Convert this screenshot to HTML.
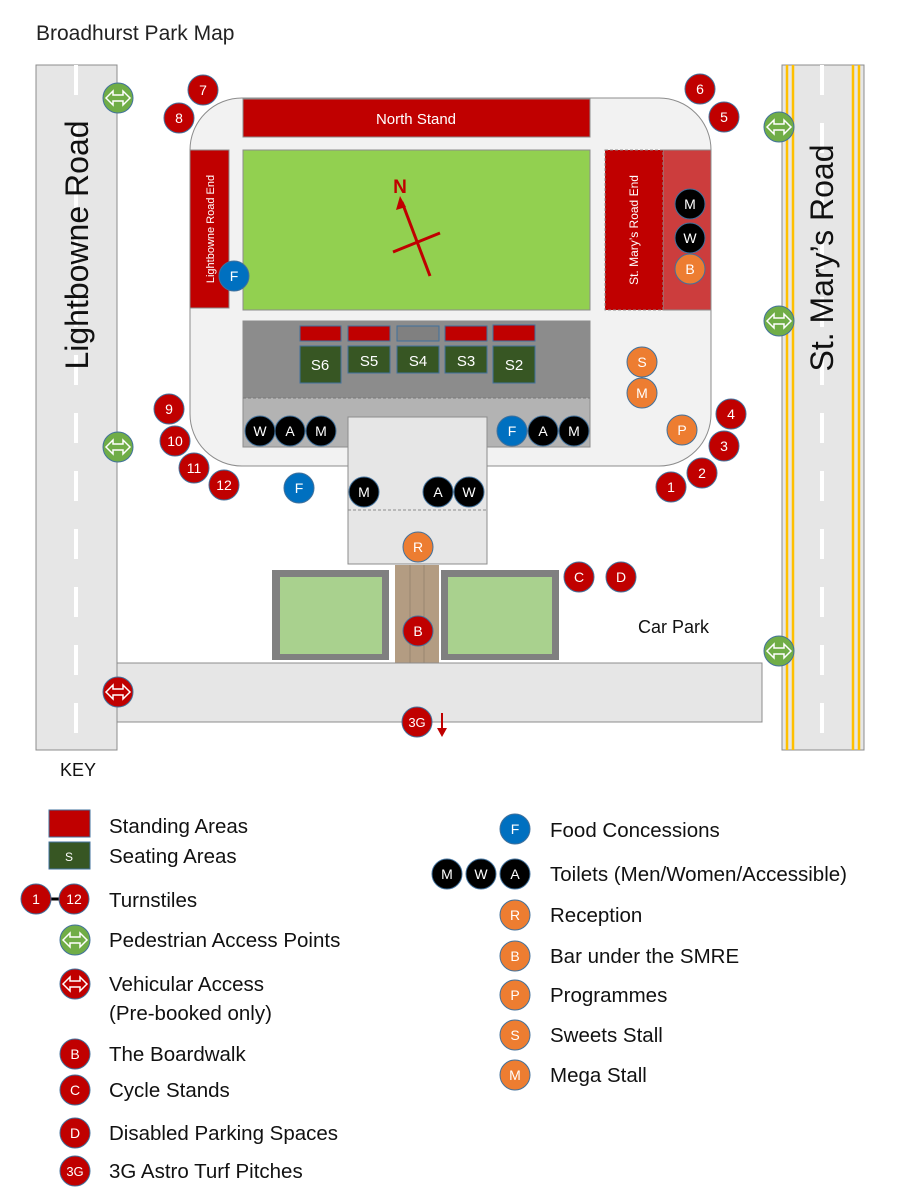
<!DOCTYPE html>
<html><head><meta charset="utf-8"><style>
html,body{margin:0;padding:0;background:#fff}
svg{display:block}
text{font-family:"Liberation Sans",sans-serif}
</style></head><body>
<svg width="900" height="1200" viewBox="0 0 900 1200" xmlns="http://www.w3.org/2000/svg">
<defs>
<g id="arr"><path d="M-12,0 L-5,-7 L-5,-3 L5,-3 L5,-7 L12,0 L5,7 L5,3 L-5,3 L-5,7 Z" fill="none" stroke="#fff" stroke-width="1.5"/></g>
</defs>
<text x="36" y="40" font-size="21" fill="#222">Broadhurst Park Map</text>

<!-- left road -->
<rect x="36" y="65" width="81" height="685" fill="#e6e6e6" stroke="#8c8c8c"/>
<line x1="76" y1="65" x2="76" y2="750" stroke="#fff" stroke-width="4" stroke-dasharray="30,28"/>
<text transform="translate(88,245) rotate(-90)" text-anchor="middle" font-size="32" fill="#111">Lightbowne Road</text>
<!-- right road -->
<rect x="782" y="65" width="82" height="685" fill="#e6e6e6" stroke="#8c8c8c"/>
<line x1="787" y1="65" x2="787" y2="750" stroke="#ffc000" stroke-width="2.5"/>
<line x1="793" y1="65" x2="793" y2="750" stroke="#ffc000" stroke-width="2.5"/>
<line x1="853" y1="65" x2="853" y2="750" stroke="#ffc000" stroke-width="2.5"/>
<line x1="859" y1="65" x2="859" y2="750" stroke="#ffc000" stroke-width="2.5"/>
<line x1="822" y1="65" x2="822" y2="750" stroke="#fff" stroke-width="4" stroke-dasharray="30,28"/>
<text transform="translate(833,258) rotate(-90)" text-anchor="middle" font-size="32" fill="#111">St. Mary’s Road</text>

<!-- stadium -->
<rect x="190" y="98" width="521" height="368" rx="52" fill="#f2f2f2" stroke="#8c8c8c"/>
<rect x="243" y="99" width="347" height="38" fill="#c00000" stroke="#8c8c8c"/>
<text x="416" y="124" text-anchor="middle" font-size="15" fill="#fff">North Stand</text>
<rect x="243" y="150" width="347" height="160" fill="#92d050" stroke="#8c8c8c"/>
<rect x="190" y="150" width="39" height="158" fill="#c00000" stroke="#8c8c8c"/>
<text transform="translate(214,229) rotate(-90)" text-anchor="middle" font-size="11" fill="#fff">Lightbowne Road End</text>
<rect x="663" y="150" width="48" height="160" fill="#cc3d3d" stroke="#8c8c8c"/>
<rect x="605" y="150" width="58" height="160" fill="#c00000" stroke="#8c8c8c" stroke-dasharray="3,2"/>
<text transform="translate(638,230) rotate(-90)" text-anchor="middle" font-size="12" fill="#fff">St. Mary’s Road End</text>
<!-- N -->
<line x1="430" y1="276" x2="402" y2="202" stroke="#c00000" stroke-width="3"/>
<path d="M400,196 L396,210 L406,207 Z" fill="#c00000"/>
<line x1="393" y1="252" x2="440" y2="233" stroke="#c00000" stroke-width="3"/>
<text x="400" y="193" text-anchor="middle" font-size="19" font-weight="bold" fill="#c00000">N</text>

<!-- main stand -->
<rect x="243" y="321" width="347" height="126" fill="#b3b3b3" stroke="#8c8c8c"/>
<rect x="243" y="321" width="347" height="77" fill="#8c8c8c"/>
<line x1="243" y1="398" x2="590" y2="398" stroke="#777" stroke-dasharray="3,2"/>
<g stroke="#41719c" stroke-width="1">
<rect x="300" y="326" width="41" height="15" fill="#c00000"/>
<rect x="348" y="326" width="42" height="15" fill="#c00000"/>
<rect x="397" y="326" width="42" height="15" fill="#808080"/>
<rect x="445" y="326" width="42" height="15" fill="#c00000"/>
<rect x="493" y="325" width="42" height="16" fill="#c00000"/>
<rect x="300" y="346" width="41" height="37" fill="#375623"/>
<rect x="348" y="346" width="42" height="27" fill="#375623"/>
<rect x="397" y="346" width="42" height="27" fill="#375623"/>
<rect x="445" y="346" width="42" height="27" fill="#375623"/>
<rect x="493" y="346" width="42" height="37" fill="#375623"/>
</g>
<g font-size="15" fill="#fff" text-anchor="middle">
<text x="320" y="370">S6</text><text x="369" y="366">S5</text><text x="418" y="366">S4</text><text x="466" y="366">S3</text><text x="514" y="370">S2</text>
</g>

<!-- concourse -->
<rect x="348" y="417" width="139" height="147" fill="#e6e6e6" stroke="#8c8c8c"/>
<line x1="348" y1="510" x2="487" y2="510" stroke="#8c8c8c" stroke-dasharray="3,2"/>

<!-- pitches -->
<rect x="272" y="570" width="117" height="90" fill="#808080"/>
<rect x="280" y="577" width="102" height="77" fill="#a9d18e"/>
<rect x="441" y="570" width="118" height="90" fill="#808080"/>
<rect x="448" y="577" width="104" height="77" fill="#a9d18e"/>
<rect x="395" y="565" width="44" height="98" fill="#b39c82"/>
<line x1="410" y1="565" x2="410" y2="663" stroke="#9a8670"/><line x1="424" y1="565" x2="424" y2="663" stroke="#9a8670"/>
<rect x="117" y="663" width="645" height="59" fill="#e6e6e6" stroke="#8c8c8c"/>
<text x="638" y="633" font-size="18" fill="#111">Car Park</text>
<line x1="442" y1="713" x2="442" y2="730" stroke="#c00000" stroke-width="2"/>
<path d="M437,728 L447,728 L442,737 Z" fill="#c00000"/>

<!-- circles -->
<g stroke="#41719c" stroke-width="1" font-size="14" text-anchor="middle">
<g fill="#70ad47"><circle cx="118" cy="98" r="15"/><circle cx="118" cy="447" r="15"/><circle cx="779" cy="127" r="15"/><circle cx="779" cy="321" r="15"/><circle cx="779" cy="651" r="15"/><circle cx="75" cy="940" r="15"/></g>
<g fill="#c00000"><circle cx="118" cy="692" r="15"/><circle cx="75" cy="984" r="15"/></g>
<g fill="#c00000">
<circle cx="203" cy="90" r="15"/><circle cx="179" cy="118" r="15"/><circle cx="700" cy="89" r="15"/><circle cx="724" cy="117" r="15"/>
<circle cx="169" cy="409" r="15"/><circle cx="175" cy="441" r="15"/><circle cx="194" cy="468" r="15"/><circle cx="224" cy="485" r="15"/>
<circle cx="731" cy="414" r="15"/><circle cx="724" cy="446" r="15"/><circle cx="702" cy="473" r="15"/><circle cx="671" cy="487" r="15"/>
<circle cx="418" cy="631" r="15"/><circle cx="417" cy="722" r="15"/><circle cx="579" cy="577" r="15"/><circle cx="621" cy="577" r="15"/>
<circle cx="75" cy="1054" r="15"/><circle cx="75" cy="1090" r="15"/><circle cx="75" cy="1133" r="15"/><circle cx="75" cy="1171" r="15"/>
</g>
<g fill="#000">
<circle cx="260" cy="431" r="15"/><circle cx="290" cy="431" r="15"/><circle cx="321" cy="431" r="15"/>
<circle cx="543" cy="431" r="15"/><circle cx="574" cy="431" r="15"/>
<circle cx="364" cy="492" r="15"/><circle cx="438" cy="492" r="15"/><circle cx="469" cy="492" r="15"/>
<circle cx="690" cy="204" r="15"/><circle cx="690" cy="238" r="15"/>
<circle cx="447" cy="874" r="15"/><circle cx="481" cy="874" r="15"/><circle cx="515" cy="874" r="15"/>
</g>
<g fill="#0070c0"><circle cx="512" cy="431" r="15"/><circle cx="299" cy="488" r="15"/><circle cx="234" cy="276" r="15"/><circle cx="515" cy="829" r="15"/></g>
<g fill="#ed7d31">
<circle cx="418" cy="547" r="15"/><circle cx="690" cy="269" r="15"/><circle cx="642" cy="362" r="15"/><circle cx="642" cy="393" r="15"/><circle cx="682" cy="430" r="15"/>
<circle cx="515" cy="915" r="15"/><circle cx="515" cy="956" r="15"/><circle cx="515" cy="995" r="15"/><circle cx="515" cy="1035" r="15"/><circle cx="515" cy="1075" r="15"/>
</g>
</g>
<g fill="#fff" font-size="14" text-anchor="middle">
<text x="203" y="95">7</text><text x="179" y="123">8</text><text x="700" y="94">6</text><text x="724" y="122">5</text>
<text x="169" y="414">9</text><text x="175" y="446">10</text><text x="194" y="473">11</text><text x="224" y="490">12</text>
<text x="731" y="419">4</text><text x="724" y="451">3</text><text x="702" y="478">2</text><text x="671" y="492">1</text>
<text x="418" y="636">B</text><text x="417" y="727" font-size="13">3G</text><text x="579" y="582">C</text><text x="621" y="582">D</text>
<text x="260" y="436">W</text><text x="290" y="436">A</text><text x="321" y="436">M</text>
<text x="512" y="436">F</text><text x="543" y="436">A</text><text x="574" y="436">M</text>
<text x="364" y="497">M</text><text x="438" y="497">A</text><text x="469" y="497">W</text>
<text x="299" y="493">F</text><text x="234" y="281">F</text>
<text x="690" y="209">M</text><text x="690" y="243">W</text><text x="690" y="274">B</text>
<text x="418" y="552">R</text><text x="642" y="367">S</text><text x="642" y="398">M</text><text x="682" y="435">P</text>
</g>
<g>
<use href="#arr" x="118" y="98"/><use href="#arr" x="118" y="447"/><use href="#arr" x="779" y="127"/><use href="#arr" x="779" y="321"/><use href="#arr" x="779" y="651"/><use href="#arr" x="118" y="692"/><use href="#arr" x="75" y="940"/><use href="#arr" x="75" y="984"/>
</g>

<!-- key -->
<text x="60" y="776" font-size="18" fill="#111">KEY</text>
<rect x="49" y="810" width="41" height="27" fill="#c00000" stroke="#41719c"/>
<rect x="49" y="842" width="41" height="27" fill="#375623" stroke="#41719c"/>
<text x="69" y="861" font-size="12" fill="#fff" text-anchor="middle">S</text>
<line x1="40" y1="899" x2="70" y2="899" stroke="#000" stroke-width="3"/>
<circle cx="36" cy="899" r="15" fill="#c00000" stroke="#41719c"/>
<circle cx="74" cy="899" r="15" fill="#c00000" stroke="#41719c"/>
<g fill="#fff" font-size="14" text-anchor="middle">
<text x="36" y="904">1</text><text x="74" y="904">12</text>
<text x="75" y="1059">B</text><text x="75" y="1095">C</text><text x="75" y="1138">D</text><text x="75" y="1176" font-size="13">3G</text>
<text x="515" y="834">F</text><text x="447" y="879">M</text><text x="481" y="879">W</text><text x="515" y="879">A</text>
<text x="515" y="920">R</text><text x="515" y="961">B</text><text x="515" y="1000">P</text><text x="515" y="1040">S</text><text x="515" y="1080">M</text>
</g>
<g font-size="20.5" fill="#111">
<text x="109" y="833">Standing Areas</text>
<text x="109" y="863">Seating Areas</text>
<text x="109" y="907">Turnstiles</text>
<text x="109" y="947">Pedestrian Access Points</text>
<text x="109" y="991">Vehicular Access</text>
<text x="109" y="1020">(Pre-booked only)</text>
<text x="109" y="1061">The Boardwalk</text>
<text x="109" y="1097">Cycle Stands</text>
<text x="109" y="1140">Disabled Parking Spaces</text>
<text x="109" y="1178">3G Astro Turf Pitches</text>
<text x="550" y="837">Food Concessions</text>
<text x="550" y="881">Toilets (Men/Women/Accessible)</text>
<text x="550" y="922">Reception</text>
<text x="550" y="963">Bar under the SMRE</text>
<text x="550" y="1002">Programmes</text>
<text x="550" y="1042">Sweets Stall</text>
<text x="550" y="1082">Mega Stall</text>
</g>
</svg>
</body></html>
